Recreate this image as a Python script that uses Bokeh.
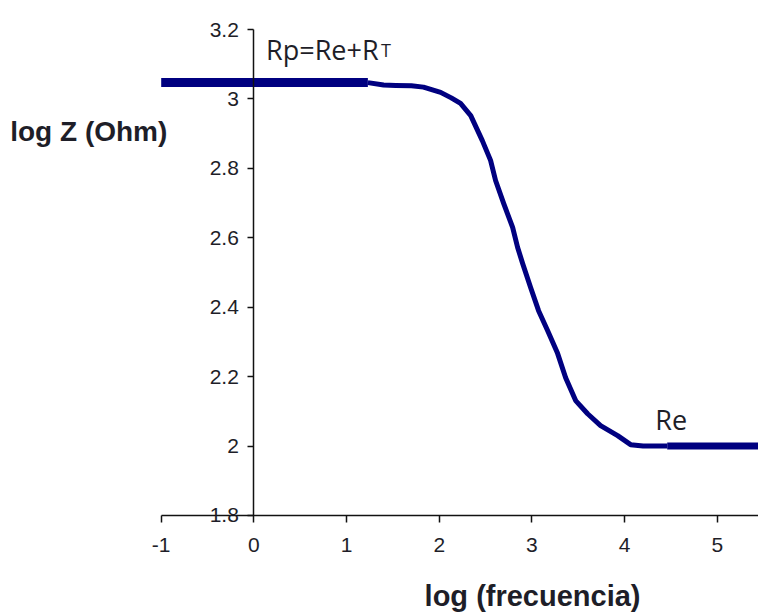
from bokeh.plotting import figure
from bokeh.models import Range1d, FixedTicker, Label, CustomJSTickFormatter
from bokeh.embed import file_html
from bokeh.resources import INLINE

# ---- data ----
x_ticks = [-1, 0, 1, 2, 3, 4, 5]
y_ticks = [1.8, 2.0, 2.2, 2.4, 2.6, 2.8, 3.0, 3.2]
x_axis_bounds = (-1, 5.445)
y_axis_bounds = (1.8, 3.2)

# low-frequency plateau (Rp = Re + RT)
plateau_low_x = [-1.0, 1.23]
plateau_low_y = [3.047, 3.047]

# transition curve
curve_x = [1.23, 1.40, 1.53, 1.70, 1.83, 2.015, 2.13, 2.23, 2.34, 2.465, 2.554,
           2.608, 2.695, 2.792, 2.846, 2.900, 2.986, 3.072, 3.169, 3.277, 3.364,
           3.472, 3.601, 3.741, 3.925, 4.065, 4.20, 4.46]
curve_y = [3.047, 3.040, 3.039, 3.038, 3.034, 3.019, 3.003, 2.987, 2.952, 2.880, 2.823,
           2.765, 2.699, 2.630, 2.572, 2.526, 2.457, 2.390, 2.333, 2.267, 2.197,
           2.131, 2.093, 2.059, 2.030, 2.004, 2.0, 2.0]

# high-frequency plateau (Re)
plateau_high_x = [4.46, 5.445]
plateau_high_y = [2.0, 2.0]

LINE = "#000080"
TXT = "#1e1e28"

p = figure(width=758, height=615, title=None,
           x_range=Range1d(-2.734, 5.445), y_range=Range1d(1.5118, 3.2836),
           output_backend="svg", toolbar_location=None,
           min_border_left=0, min_border_right=0,
           min_border_top=0, min_border_bottom=0)
p.outline_line_color = None
p.xgrid.grid_line_color = None
p.ygrid.grid_line_color = None
p.background_fill_color = "white"
p.border_fill_color = "white"

p.line(curve_x, curve_y, line_color=LINE, line_width=5, line_join="round")
p.line(plateau_low_x, plateau_low_y, line_color=LINE, line_width=9)
p.line(plateau_high_x, plateau_high_y, line_color=LINE, line_width=7)

# axes crossing inside the plot area
p.yaxis.fixed_location = 0
p.xaxis.fixed_location = 1.8
p.xaxis.bounds = x_axis_bounds
p.yaxis.bounds = y_axis_bounds
for ax in (p.xaxis, p.yaxis):
    ax.axis_line_color = "#111111"
    ax.axis_line_width = 1.5
    ax.major_tick_line_color = "#111111"
    ax.major_tick_line_width = 1.5
    ax.major_tick_in = 0
    ax.minor_tick_line_color = None
    ax.major_label_text_font = "Liberation Sans"
    ax.major_label_text_font_size = "21px"
    ax.major_label_text_color = TXT

p.xaxis.ticker = FixedTicker(ticks=x_ticks)
p.xaxis.major_tick_out = 7
p.xaxis.major_label_standoff = 16
p.xaxis.formatter = CustomJSTickFormatter(code="return String(Math.round(tick))")
p.yaxis.ticker = FixedTicker(ticks=y_ticks)
p.yaxis.major_tick_out = 6
p.yaxis.major_label_standoff = 9
p.yaxis.formatter = CustomJSTickFormatter(code="return String(Math.round(tick*10)/10)")

# annotations
p.add_layout(Label(x=0.131, y=3.142, text="Rp=Re+R", text_font="Open Sans",
                   text_font_size="27px", text_color=TXT, text_baseline="alphabetic"))
p.add_layout(Label(x=1.372, y=3.142, text="T", text_font="Open Sans",
                   text_font_size="18px", text_color=TXT, text_baseline="alphabetic"))
p.add_layout(Label(x=4.332, y=2.0755, text="Re", text_font="Open Sans",
                   text_font_size="27px", text_color=TXT, text_baseline="alphabetic"))

# axis titles
p.add_layout(Label(x=-2.629, y=2.905, text="log Z (Ohm)", text_font="Liberation Sans",
                   text_font_style="bold", text_font_size="28px", text_color=TXT,
                   text_baseline="alphabetic"))
p.add_layout(Label(x=1.842, y=1.569, text="log (frecuencia)", text_font="Liberation Sans",
                   text_font_style="bold", text_font_size="29px", text_color=TXT,
                   text_baseline="alphabetic"))

open("out.html", "w").write(file_html(p, INLINE))
